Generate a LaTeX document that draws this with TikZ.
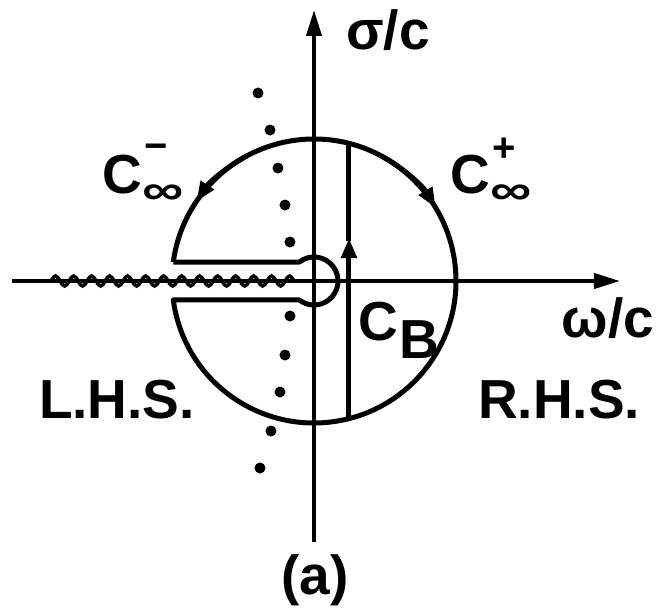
\documentclass[tikz,border=0pt]{standalone}
\usepackage{fontspec}
\setmainfont{Liberation Sans}
\usetikzlibrary{arrows.meta,positioning,decorations.pathmorphing}

\begin{document}
\begin{tikzpicture}[x=1pt, y=1pt,
  curve/.style={line width=5pt, line join=round},
  axis/.style={line width=4pt, -{Triangle[length=26pt, width=15pt]}},
  flow/.style={-{Triangle[length=20pt, width=15pt]}},
  cut/.style={line width=3.5pt, decorate,
    decoration={snake, amplitude=5pt, segment length=18pt}},
  pole/.style={circle, fill, inner sep=0pt, minimum size=11pt},
  lbl/.style={font=\bfseries\fontsize{55}{60}\selectfont, inner sep=0pt},
  idx/.style={font=\bfseries\fontsize{40}{44}\selectfont, inner sep=0pt}]
\newcommand{\wideinf}{\scalebox{1.45}[1.05]{∞}}
\useasboundingbox (-314,-330) rectangle (343,281);
% axes and branch cut
\draw[axis] (-302,0) -- (306,0);
\draw[axis] (0,-261) -- (0,271);
\draw[cut] (-264,0) -- (-14,0);
% keyhole contour
\draw[curve] (172.31:142) -- (127.7:24)
  arc[start angle=127.7, end angle=-127.7, radius=24]
  -- (187.69:142) arc[start angle=187.69, end angle=532.31, radius=142];
\draw[curve, flow] (118:142) arc[start angle=118, end angle=146, radius=142];
\draw[curve, flow] (62:142) arc[start angle=62, end angle=31, radius=142];
% Bromwich line
\draw[curve, flow] (35,-137.6) -- (35,43);
\draw[curve] (35,40) -- (35,137.6);
% poles
\foreach \px/\py in {-56/188, -44/151, -36/113, -29/76, -24/39,
    -24/-35, -29/-74, -34/-111, -43/-150, -54/-187}
  \node[pole] at (\px,\py) {};
% labels
\node[lbl] (sig) at (74,251) {σ/c};
\node[lbl] (om) at (294,-37) {ω/c};
\node[lbl] (cminus) at (-192,106) {C};
\node[idx, anchor=west] (cminf) at ([xshift=0pt, yshift=0pt]cminus.south east) {\wideinf};
\node[idx, anchor=south west] (cmsgn) at ([xshift=2pt, yshift=-4pt]cminus.north east) {−};
\node[lbl] (cplus) at (156,106) {C};
\node[idx, anchor=west] (cpinf) at ([xshift=0pt, yshift=0pt]cplus.south east) {\wideinf};
\node[idx, anchor=south west] (cpsgn) at ([xshift=2pt, yshift=-6pt]cplus.north east) {+};
\node[lbl] (cb) at (64,-41) {C};
\node[lbl, anchor=west] (cbsub) at ([xshift=1pt, yshift=2pt]cb.south east) {B};
\node[lbl] (lhs) at (-197,-119) {L.H.S.};
\node[lbl] (rhs) at (245,-119) {R.H.S.};
\node[lbl] (cap) at (1,-299) {(a)};
\end{tikzpicture}
\end{document}
